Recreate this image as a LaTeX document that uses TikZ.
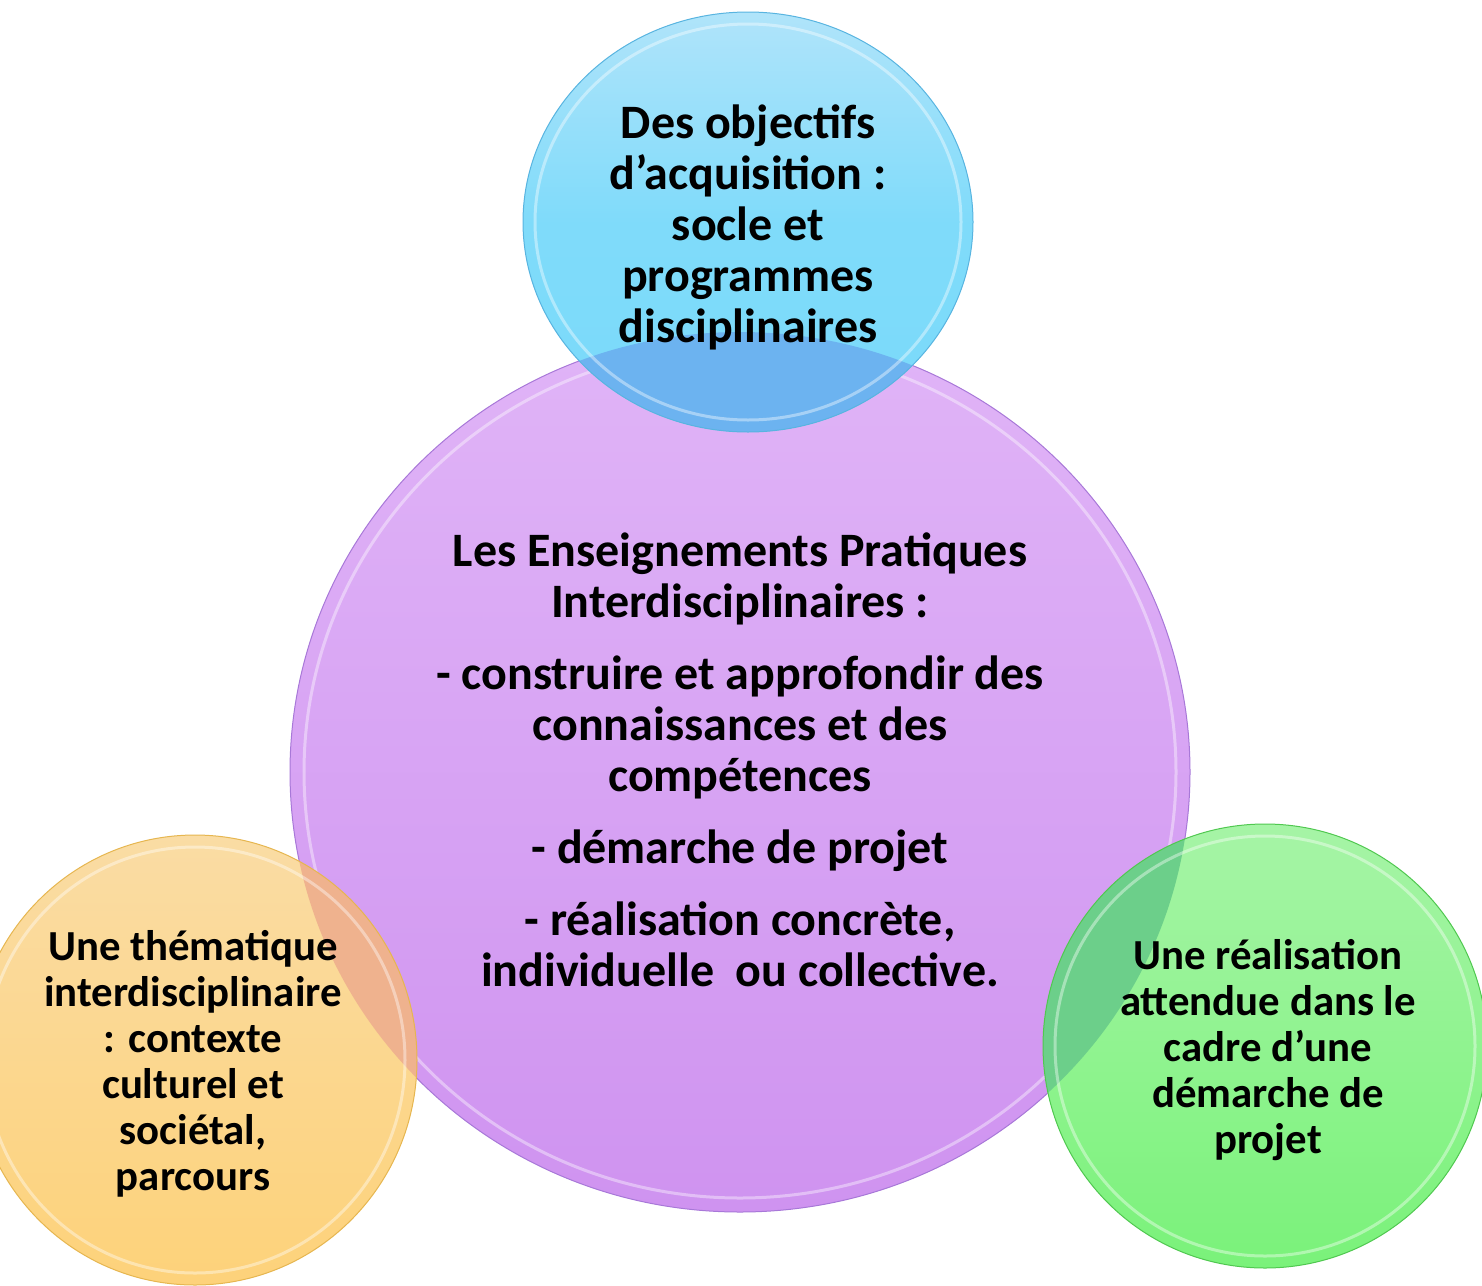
\documentclass[tikz,border=0pt]{standalone}
\usepackage{fontspec}
\setmainfont{Carlito}
\definecolor{pTop}{HTML}{E0B4F7}
\definecolor{pBot}{HTML}{CF93F0}
\definecolor{pEdge}{HTML}{A878D8}
\definecolor{bTop}{HTML}{B0E4FA}
\definecolor{bBot}{HTML}{7ADAFA}
\definecolor{bEdge}{HTML}{58B4E0}
\definecolor{bOver}{HTML}{6CB3F0}
\definecolor{oTop}{HTML}{FADCA4}
\definecolor{oBot}{HTML}{FDD27A}
\definecolor{oEdge}{HTML}{E6B650}
\definecolor{oOver}{HTML}{EFB28E}
\definecolor{gTop}{HTML}{A6F4A6}
\definecolor{gBot}{HTML}{7AF27A}
\definecolor{gEdge}{HTML}{50C850}
\definecolor{gOver}{HTML}{6CCF8A}
\tikzset{
  bigtxt/.style={align=center, inner sep=0pt, font=\bfseries\fontsize{48}{51}\selectfont},
  smalltxt/.style={align=center, inner sep=0pt, font=\bfseries\fontsize{42.8}{46}\selectfont},
  rim/.style={draw=white, draw opacity=0.4, line width=3pt},
}
\begin{document}
\begin{tikzpicture}[x=1pt,y=-1pt]
\useasboundingbox (0,0) rectangle (1482,1285);
\clip (0,0) rectangle (1482,1285);
% central purple
\shade[top color=pTop, bottom color=pBot] (740,772) ellipse [x radius=450pt, y radius=440pt];
\draw[rim] (740,772) ellipse [x radius=436pt, y radius=426pt];
\draw[pEdge, line width=1pt] (740,772) ellipse [x radius=450pt, y radius=440pt];
% top blue
\shade[top color=bTop, bottom color=bBot, middle color=bBot!90!bTop] (748,222) ellipse [x radius=225pt, y radius=210pt];
\begin{scope}
  \clip (740,772) ellipse [x radius=450pt, y radius=440pt];
  \fill[bOver] (748,222) ellipse [x radius=225pt, y radius=210pt];
\end{scope}
\draw[rim] (748,222) ellipse [x radius=213pt, y radius=198pt];
\draw[bEdge, line width=1pt] (748,222) ellipse [x radius=225pt, y radius=210pt];
% orange
\shade[top color=oTop, bottom color=oBot] (195,1060) ellipse [x radius=222pt, y radius=225pt];
\begin{scope}
  \clip (740,772) ellipse [x radius=450pt, y radius=440pt];
  \fill[oOver] (195,1060) ellipse [x radius=222pt, y radius=225pt];
\end{scope}
\draw[rim] (195,1060) ellipse [x radius=210pt, y radius=213pt];
\draw[oEdge, line width=1pt] (195,1060) ellipse [x radius=222pt, y radius=225pt];
% green
\shade[top color=gTop, bottom color=gBot] (1265,1046) ellipse [x radius=222pt, y radius=222pt];
\begin{scope}
  \clip (740,772) ellipse [x radius=450pt, y radius=440pt];
  \fill[gOver] (1265,1046) ellipse [x radius=222pt, y radius=222pt];
\end{scope}
\draw[rim] (1265,1046) ellipse [x radius=210pt, y radius=210pt];
\draw[gEdge, line width=1pt] (1265,1046) ellipse [x radius=222pt, y radius=222pt];
% texts
\node[bigtxt] (tBlue) at (748,227) {Des objectifs\\d’acquisition :\\socle et\\programmes\\disciplinaires};
\node[bigtxt] (tPurple) at (740,760) {Les Enseignements Pratiques\\Interdisciplinaires :\\[21pt]- construire et approfondir des\\connaissances et des\\compétences\\[21pt]- démarche de projet\\[21pt]- réalisation concrète,\\individuelle\ \ ou collective.};
\node[smalltxt] (tOrange) at (193,1064) {Une thématique\\interdisciplinaire\\: contexte\\culturel et\\sociétal,\\parcours};
\node[smalltxt] (tGreen) at (1268,1050) {Une réalisation\\attendue dans le\\cadre d’une\\démarche de\\projet};
\end{tikzpicture}
\end{document}
